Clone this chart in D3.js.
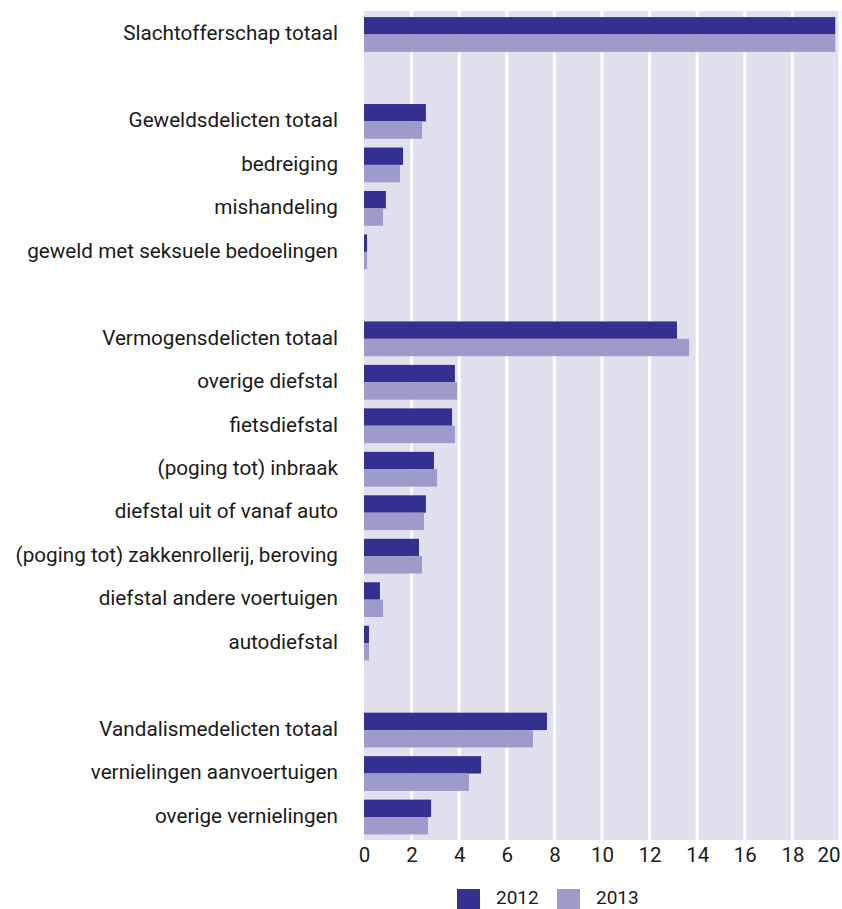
<!DOCTYPE html>
<html>
<head>
<meta charset="utf-8">
<script src="https://cdn.jsdelivr.net/npm/d3@7"></script>
<style>
  body { margin: 0; background: #fff; }
  svg { display: block; font-family: Roboto, "Liberation Sans", sans-serif; }
</style>
</head>
<body>
<svg id="chart" width="842" height="909"></svg>
<script>
// rows, "" = empty spacer row
const categories = [
  "Slachtofferschap totaal", "",
  "Geweldsdelicten totaal", "bedreiging", "mishandeling", "geweld met seksuele bedoelingen", "",
  "Vermogensdelicten totaal", "overige diefstal", "fietsdiefstal", "(poging tot) inbraak",
  "diefstal uit of vanaf auto", "(poging tot) zakkenrollerij, beroving", "diefstal andere voertuigen", "autodiefstal", "",
  "Vandalismedelicten totaal", "vernielingen aanvoertuigen", "overige vernielingen"
];
const years = ["2012", "2013"];
const values2012 = [19.8, null, 2.6, 1.64, 0.92, 0.13, null, 13.15, 3.82, 3.7, 2.94, 2.6, 2.31, 0.67, 0.21, null, 7.69, 4.92, 2.82];
const values2013 = [19.8, null, 2.44, 1.51, 0.8, 0.13, null, 13.66, 3.91, 3.82, 3.07, 2.52, 2.44, 0.8, 0.21, null, 7.1, 4.41, 2.69];
const ticks = [0, 2, 4, 6, 8, 10, 12, 14, 16, 18, 20];
const colors = { "2012": "#34308f", "2013": "#9d9bca" };

const svg = d3.select("#chart");
const rowKeys = categories.map((c, i) => i);

const x = d3.scaleLinear().domain([0, 20]).range([364, 840]);
const y = d3.scaleBand().domain(rowKeys).range([12.75, 838.75]).paddingInner(0.2).paddingOuter(0.1);
const ySub = d3.scaleBand().domain(years).range([0, y.bandwidth()]);

// background
svg.append("rect").attr("x", x(0)).attr("y", 11).attr("width", 842 - x(0)).attr("height", 840 - 11).attr("fill", "#e1e0ef");

// gridlines
svg.append("g").selectAll("line").data(ticks.filter(t => t > 0)).join("line")
  .attr("x1", d => x(d)).attr("x2", d => x(d)).attr("y1", 11).attr("y2", 840)
  .attr("stroke", "#fff").attr("stroke-width", 3);

// bars
const series = { "2012": values2012, "2013": values2013 };
years.forEach(yr => {
  svg.append("g").selectAll("rect")
    .data(series[yr].map((v, i) => ({ i, v })).filter(d => d.v != null))
    .join("rect")
    .attr("x", x(0))
    .attr("y", d => y(d.i) + ySub(yr))
    .attr("width", d => x(d.v) - x(0))
    .attr("height", ySub.bandwidth())
    .attr("fill", colors[yr]);
});

// category labels
svg.append("g").selectAll("text").data(categories.map((c, i) => ({ c, i })).filter(d => d.c))
  .join("text")
  .attr("x", 338).attr("y", d => y(d.i) + y.bandwidth() / 2)
  .attr("dy", "0.28em")
  .attr("text-anchor", "end")
  .attr("font-size", 20.7).attr("fill", "#1a1a1a")
  .text(d => d.c);

// x axis
const axis = svg.append("g").attr("transform", "translate(0,840)")
  .call(d3.axisBottom(x).tickValues(ticks).tickSize(0).tickPadding(0));
axis.select(".domain").remove();
axis.selectAll("text")
  .attr("y", 22).attr("dy", 0)
  .attr("font-size", 20.5).attr("fill", "#1a1a1a")
  .attr("font-family", "Roboto, sans-serif")
  .attr("text-anchor", d => d === 20 ? "end" : "middle");

// legend
const legend = svg.append("g");
const legX = [457, 557];
years.forEach((yr, i) => {
  legend.append("rect").attr("x", legX[i]).attr("y", 889).attr("width", 23).attr("height", 20).attr("fill", colors[yr]);
  legend.append("text").attr("x", legX[i] + 39).attr("y", 904)
    .attr("font-size", 19).attr("fill", "#1a1a1a").text(yr);
});
</script>
</body>
</html>
